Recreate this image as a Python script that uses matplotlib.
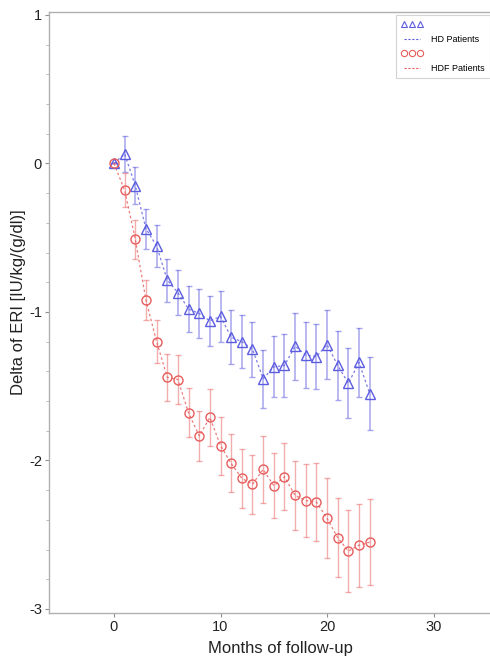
import numpy as np
import matplotlib
matplotlib.use('Agg')
from matplotlib import pyplot as plt
from matplotlib.lines import Line2D
from matplotlib.ticker import MultipleLocator

plt.rcParams['font.family'] = ['Liberation Sans', 'DejaVu Sans']
plt.rcParams['axes.unicode_minus'] = False

months = list(range(25))
hd_mean = [0.0, 0.065, -0.15, -0.44, -0.555, -0.785, -0.87, -0.98, -1.01, -1.06, -1.03,
           -1.17, -1.20, -1.25, -1.45, -1.37, -1.36, -1.23, -1.29, -1.30, -1.22,
           -1.36, -1.48, -1.34, -1.55]
hd_err = [0.0, 0.12, 0.125, 0.135, 0.14, 0.145, 0.15, 0.155, 0.165, 0.17, 0.17,
          0.18, 0.18, 0.185, 0.195, 0.205, 0.21, 0.225, 0.22, 0.22, 0.23,
          0.23, 0.235, 0.235, 0.245]
hdf_mean = [0.0, -0.18, -0.51, -0.92, -1.2, -1.44, -1.455, -1.68, -1.835, -1.71, -1.90,
            -2.02, -2.12, -2.16, -2.06, -2.17, -2.11, -2.235, -2.27, -2.28, -2.39,
            -2.52, -2.61, -2.57, -2.55]
hdf_err = [0.0, 0.115, 0.13, 0.135, 0.145, 0.16, 0.165, 0.165, 0.17, 0.19, 0.195,
           0.195, 0.2, 0.2, 0.225, 0.22, 0.225, 0.23, 0.245, 0.26, 0.27,
           0.265, 0.275, 0.28, 0.29]

blue = '#5c5ce0'
red = '#e85c5c'

fig = plt.figure(figsize=(4.9, 6.62), dpi=100)
ax = fig.add_axes([49/490, 49/662, 456/490, 601/662])

# error bars first, then dashed lines and open markers
ax.errorbar(months, hd_mean, yerr=hd_err, fmt='none', ecolor=blue, alpha=0.55,
            elinewidth=1.1, capsize=2.2, capthick=1.0)
ax.errorbar(months, hdf_mean, yerr=hdf_err, fmt='none', ecolor=red, alpha=0.5,
            elinewidth=1.0, capsize=2.2, capthick=1.0)
ax.plot(months, hd_mean, ls=(0, (2, 2)), lw=0.9, color=blue, alpha=0.8)
ax.plot(months, hdf_mean, ls=(0, (2, 2)), lw=0.9, color=red, alpha=0.8)
ax.plot(months, hd_mean, ls='none', marker='^', ms=6.5, mfc='none', mec=blue, mew=1.0)
ax.plot(months, hdf_mean, ls='none', marker='o', ms=6.5, mfc='none', mec=red, mew=1.0)

ax.set_xlim(-6.1, 36.7)
ax.set_ylim(-3.027, 1.02)
ax.set_xticks([0, 10, 20, 30])
ax.set_yticks([-3, -2, -1, 0, 1])
ax.yaxis.set_minor_locator(MultipleLocator(0.2))

for s in ax.spines.values():
    s.set_color('#b0b0b0')
    s.set_linewidth(1.0)
ax.tick_params(axis='both', which='major', colors='#909090', labelcolor='#222222',
               labelsize=10.5, length=3, width=0.8, pad=2)
ax.tick_params(axis='y', which='minor', colors='#b0b0b0', length=2, width=0.6)

ax.set_xlabel('Months of follow-up', fontsize=12, color='#222222')
ax.set_ylabel('Delta of ERI [IU/kg/(g/dl)]', fontsize=12, color='#222222')
ax.xaxis.set_label_coords((280 - 49) / 456, -(649 - 613) / 601)
ax.yaxis.set_label_coords(-(49 - 18) / 456, (613 - 302) / 601)
ax.xaxis.label.set_va('center')
ax.yaxis.label.set_va('center')

handles = [
    Line2D([], [], ls='none', marker='^', ms=4.5, mfc='none', mec=blue, mew=0.8),
    Line2D([], [], ls=(0, (2, 1.5)), lw=0.8, color=blue),
    Line2D([], [], ls='none', marker='o', ms=4.5, mfc='none', mec=red, mew=0.8),
    Line2D([], [], ls=(0, (2, 1.5)), lw=0.8, color=red),
]
labels = ['', 'HD Patients', '', 'HDF Patients']
leg = ax.legend(handles, labels, loc='upper left', bbox_to_anchor=(396/490, 1 - 15/662),
                bbox_transform=fig.transFigure, borderaxespad=0, numpoints=3,
                fontsize=6.5, handlelength=2.4, handletextpad=0.9, labelspacing=0.6,
                frameon=True, fancybox=False, borderpad=0.6)
leg.get_frame().set_edgecolor('#c8c8c8')
leg.get_frame().set_linewidth(0.8)

fig.savefig('out.png', dpi=100)
